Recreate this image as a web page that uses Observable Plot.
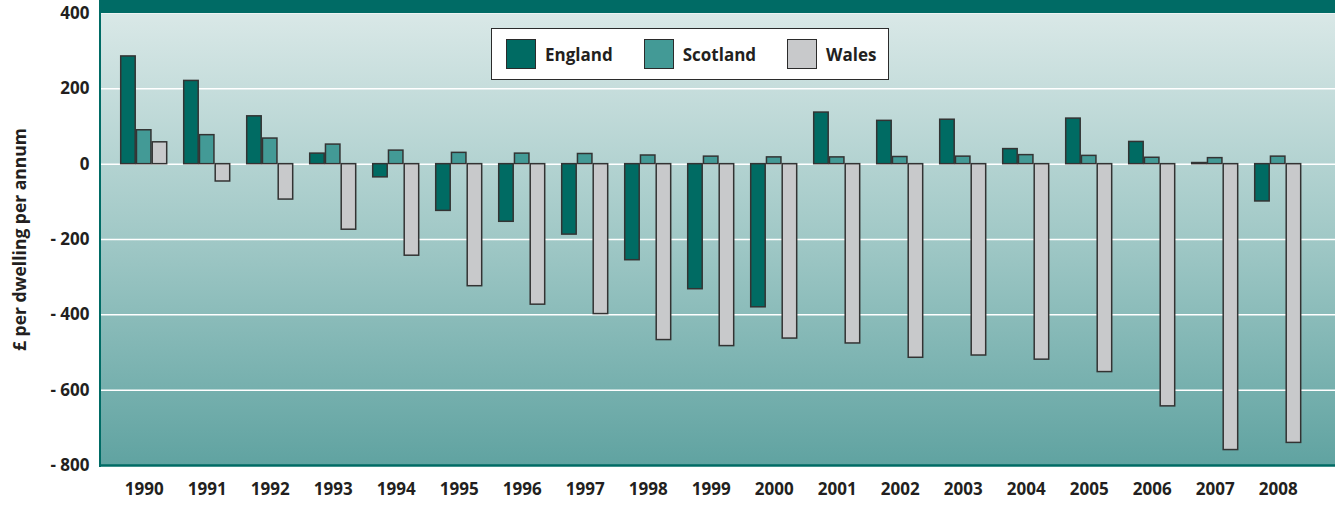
<!DOCTYPE html>
<html>
<head>
<meta charset="utf-8">
<script src="https://cdn.jsdelivr.net/npm/d3@7"></script>
<script src="https://cdn.jsdelivr.net/npm/@observablehq/plot@0.6"></script>
<style>
  html, body { margin: 0; padding: 0; background: #fff; }
  #wrap { position: relative; width: 1335px; height: 510px; font-family: "Open Sans", sans-serif; }
  #band { position: absolute; left: 100px; top: 0; width: 1235px; height: 13px; background: #006b65; }
  #leftline { position: absolute; left: 99px; top: 0; width: 2px; height: 467px; background: #006b65; }
  #legend { position: absolute; left: 491px; top: 28px; width: 382px; height: 50px; background: #fff;
            border: 1.5px solid #2b2b2b; display: flex; align-items: center; padding-left: 14px; box-sizing: content-box; }
  .item { display: flex; align-items: center; margin-right: 31px; }
  .item:last-child { margin-right: 0; }
  .sw { width: 28px; height: 28px; border: 1.5px solid #2b2b2b; margin-right: 9px; }
  .lab { font-weight: 700; font-size: 17px; color: #231f20; }
</style>
</head>
<body>
<div id="wrap">
  <div id="chart"></div>
  <div id="band"></div>
  <div id="leftline"></div>
  <div id="legend"></div>
</div>
<script>
const years = ["1990","1991","1992","1993","1994","1995","1996","1997","1998","1999","2000","2001","2002","2003","2004","2005","2006","2007","2008"];
const england = [286, 221, 127, 28, -35, -124, -153, -187, -255, -332, -380, 137, 115, 118, 40, 121, 59, 3, -99];
const scotland = [90, 77, 68, 52, 36, 30, 28, 27, 23, 20, 18, 18, 19, 20, 24, 22, 17, 16, 20];
const wales = [58, -46, -94, -174, -243, -324, -373, -398, -467, -483, -463, -476, -514, -508, -519, -552, -643, -759, -740];
const seriesNames = ["England", "Scotland", "Wales"];
const seriesColors = ["#006b63", "#439a96", "#c8c9cb"];
const yTicks = [-800, -600, -400, -200, 0, 200, 400];
const gridValues = [-600, -400, -200, 0, 200];
const yLabel = "£ per dwelling per annum";

const rows = (vals) => years.map((y, i) => ({year: y, value: vals[i]}));

const defs = () => {
  const d = d3.create("svg:defs");
  const g = d.append("linearGradient").attr("id", "bg").attr("x1", 0).attr("y1", 0).attr("x2", 0).attr("y2", 1);
  g.append("stop").attr("offset", "0%").attr("stop-color", "#d9e8e7");
  g.append("stop").attr("offset", "50%").attr("stop-color", "#a0c8c6");
  g.append("stop").attr("offset", "100%").attr("stop-color", "#60a3a1");
  return d.node();
};

const bw = 46, sub = 14.5;
const insets = [[0, bw - sub], [(bw - sub) / 2, (bw - sub) / 2], [bw - sub, 0]];
const data = [england, scotland, wales];

const barMarks = data.map((vals, i) => Plot.barY(rows(vals), {
  x: "year", y: "value",
  fill: seriesColors[i], stroke: "#333", strokeWidth: 1.5,
  insetLeft: insets[i][0], insetRight: insets[i][1]
}));

const chart = Plot.plot({
  width: 1335, height: 510,
  marginTop: 13, marginBottom: 45, marginLeft: 100, marginRight: 0,
  style: {fontFamily: "Open Sans, sans-serif", fontSize: "17px", fontWeight: 700, color: "#231f20", background: "transparent"},
  x: {type: "band", domain: years, range: [103.7, 1317.7], round: false, paddingInner: 0.27, paddingOuter: 0.27, label: null, tickSize: 0, tickPadding: 17},
  y: {domain: [-800, 400], ticks: yTicks, tickSize: 0, tickPadding: 11, label: null,
      tickFormat: d => d < 0 ? "- " + Math.abs(d) : String(d)},
  marks: [
    defs,
    Plot.frame({fill: "url(#bg)", stroke: "none"}),
    Plot.ruleY(gridValues, {stroke: "white", strokeWidth: 1.5}),
    ...barMarks,
    Plot.ruleY([-800], {stroke: "#006b65", strokeWidth: 2.5}),
    Plot.text([yLabel], {frameAnchor: "left", textAnchor: "middle", lineAnchor: "middle", rotate: -90, dx: -80, fontSize: 17.5, fontWeight: 700, fill: "#231f20"})
  ]
});
document.getElementById("chart").appendChild(chart);

const legend = d3.select("#legend");
seriesNames.forEach((n, i) => {
  const it = legend.append("div").attr("class", "item");
  it.append("div").attr("class", "sw").style("background", seriesColors[i]);
  it.append("div").attr("class", "lab").text(n);
});
</script>
</body>
</html>
